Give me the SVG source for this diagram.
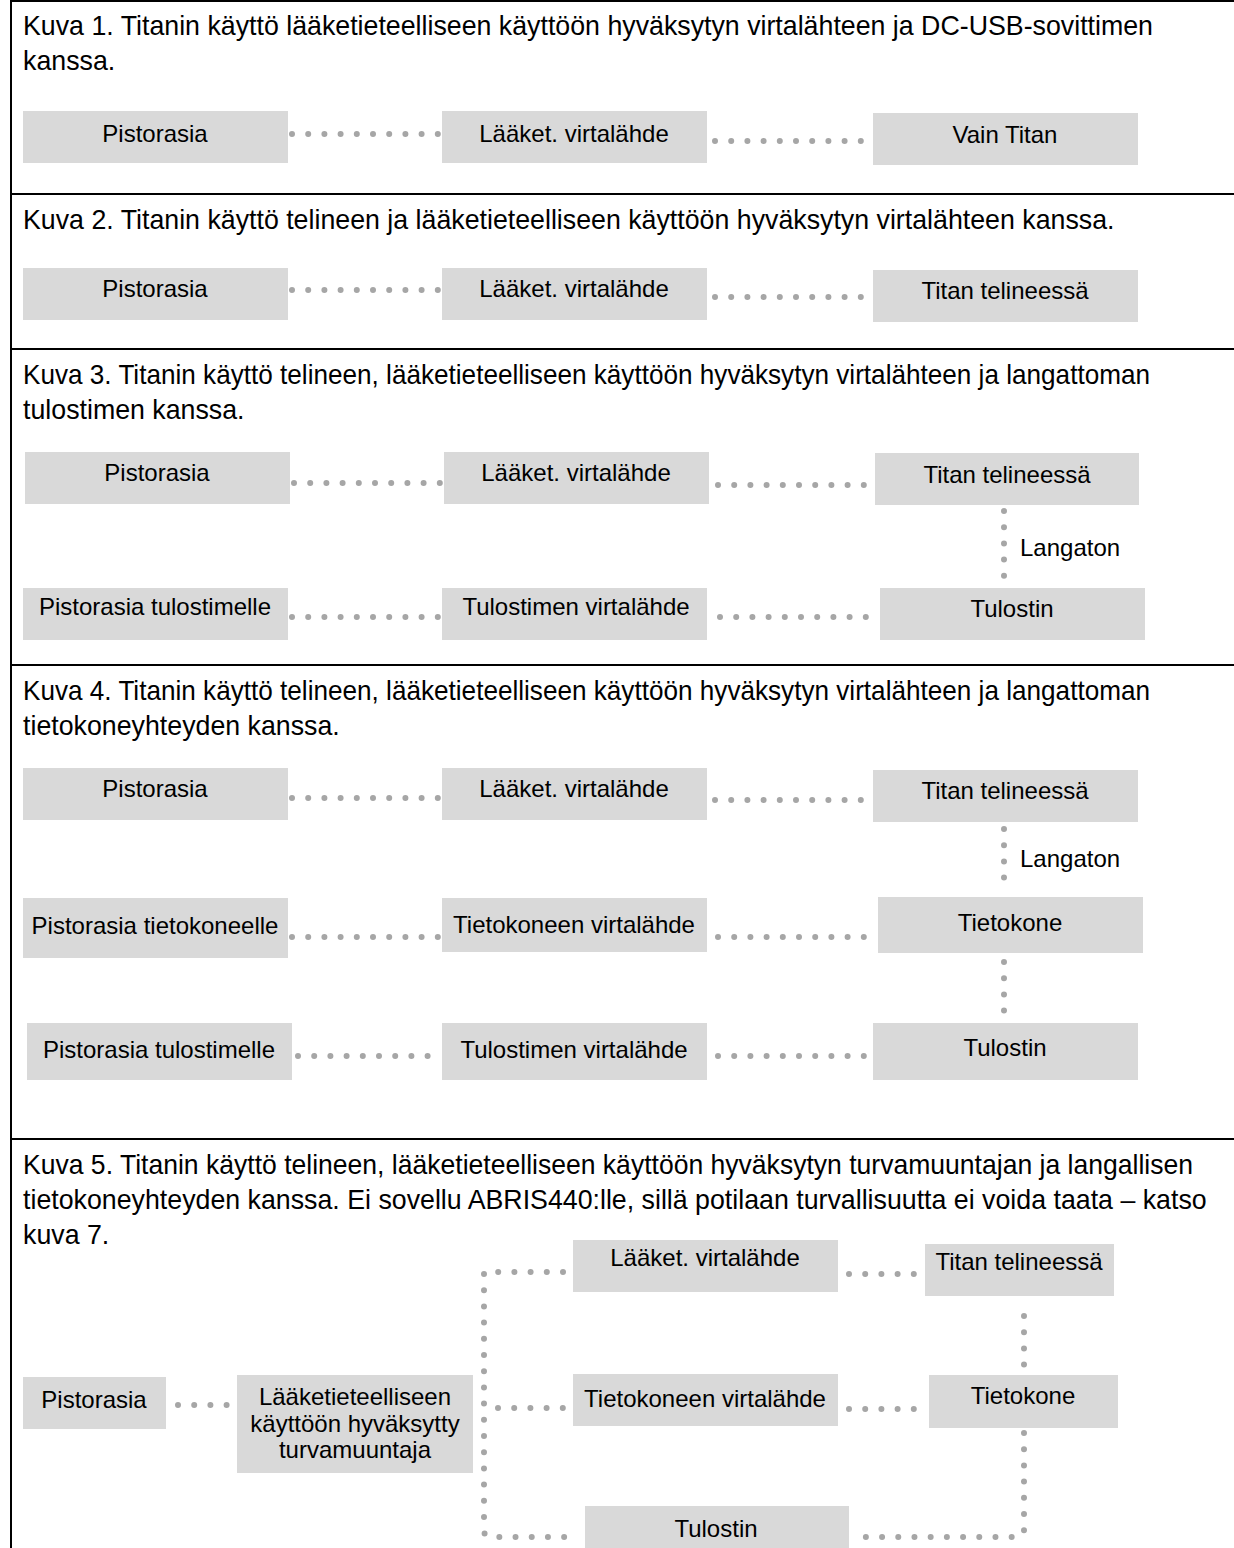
<svg xmlns="http://www.w3.org/2000/svg" width="1234" height="1548" viewBox="0 0 1234 1548">
<style>
.frame{stroke:#000;stroke-width:2;fill:none}
.box{fill:#d9d9d9}
.t{font-family:"Liberation Sans",Arial,sans-serif;font-size:26.75px;fill:#000}
.l{font-family:"Liberation Sans",Arial,sans-serif;font-size:24px;fill:#000;text-anchor:middle}
.lb{font-family:"Liberation Sans",Arial,sans-serif;font-size:24px;fill:#000}
.d{stroke:#a6a6a6;stroke-width:6;stroke-linecap:round;stroke-dasharray:0 16.2;fill:none}
</style>
<rect width="1234" height="1548" fill="#fff"/>
<g id="frame">
<line class="frame" x1="11" y1="0" x2="11" y2="1548"/>
<line class="frame" x1="10" y1="1" x2="1234" y2="1"/>
<line class="frame" x1="10" y1="194" x2="1234" y2="194"/>
<line class="frame" x1="10" y1="349" x2="1234" y2="349"/>
<line class="frame" x1="10" y1="665" x2="1234" y2="665"/>
<line class="frame" x1="10" y1="1139" x2="1234" y2="1139"/>
</g>
<g id="titles">
<text class="t" x="23" y="35">Kuva 1. Titanin käyttö lääketieteelliseen käyttöön hyväksytyn virtalähteen ja DC-USB-sovittimen</text>
<text class="t" x="23" y="70">kanssa.</text>
<text class="t" x="23" y="229">Kuva 2. Titanin käyttö telineen ja lääketieteelliseen käyttöön hyväksytyn virtalähteen kanssa.</text>
<text class="t" x="23" y="384" textLength="1127" lengthAdjust="spacingAndGlyphs">Kuva 3. Titanin käyttö telineen, lääketieteelliseen käyttöön hyväksytyn virtalähteen ja langattoman</text>
<text class="t" x="23" y="419">tulostimen kanssa.</text>
<text class="t" x="23" y="700" textLength="1127" lengthAdjust="spacingAndGlyphs">Kuva 4. Titanin käyttö telineen, lääketieteelliseen käyttöön hyväksytyn virtalähteen ja langattoman</text>
<text class="t" x="23" y="735">tietokoneyhteyden kanssa.</text>
<text class="t" x="23" y="1174" textLength="1170" lengthAdjust="spacingAndGlyphs">Kuva 5. Titanin käyttö telineen, lääketieteelliseen käyttöön hyväksytyn turvamuuntajan ja langallisen</text>
<text class="t" x="23" y="1209">tietokoneyhteyden kanssa. Ei sovellu ABRIS440:lle, sillä potilaan turvallisuutta ei voida taata – katso</text>
<text class="t" x="23" y="1244">kuva 7.</text>
</g>
<g id="connectors">
<line class="d" x1="292" y1="134" x2="438" y2="134"/>
<line class="d" x1="715" y1="141" x2="863" y2="141"/>
<line class="d" x1="292" y1="290" x2="438" y2="290"/>
<line class="d" x1="715" y1="297" x2="863" y2="297"/>
<line class="d" x1="294" y1="483" x2="440" y2="483"/>
<line class="d" x1="718" y1="485" x2="866" y2="485"/>
<line class="d" x1="1004" y1="511" x2="1004" y2="576"/>
<line class="d" x1="292" y1="617" x2="438" y2="617"/>
<line class="d" x1="720" y1="617" x2="866" y2="617"/>
<line class="d" x1="292" y1="798" x2="438" y2="798"/>
<line class="d" x1="715" y1="800" x2="863" y2="800"/>
<line class="d" x1="1004" y1="829" x2="1004" y2="885"/>
<line class="d" x1="292" y1="937" x2="438" y2="937"/>
<line class="d" x1="718" y1="937" x2="866" y2="937"/>
<line class="d" x1="1004" y1="962" x2="1004" y2="1026"/>
<line class="d" x1="298" y1="1056" x2="442" y2="1056"/>
<line class="d" x1="718" y1="1056" x2="866" y2="1056"/>
<line class="d" x1="849" y1="1274" x2="914" y2="1274"/>
<line class="d" x1="1024" y1="1316" x2="1024" y2="1365"/>
<line class="d" x1="849" y1="1409" x2="914" y2="1409"/>
<line class="d" x1="178" y1="1405" x2="227" y2="1405"/>
<path class="d" d="M 563 1272 H 484 V 1530 Q 484 1537 491 1537 H 576"/>
<line class="d" x1="498" y1="1408" x2="563" y2="1408"/>
<path class="d" d="M 1024 1433 V 1530 Q 1024 1537 1017 1537 H 850"/>
</g>
<g id="k1-pistorasia"><rect class="box" x="23" y="111" width="265" height="52"/><text class="l" x="155" y="142">Pistorasia</text></g>
<g id="k1-virtalahde"><rect class="box" x="442" y="111" width="265" height="52"/><text class="l" x="574" y="142">Lääket. virtalähde</text></g>
<g id="k1-titan"><rect class="box" x="873" y="113" width="265" height="52"/><text class="l" x="1005" y="143">Vain Titan</text></g>

<g id="k2-pistorasia"><rect class="box" x="23" y="268" width="265" height="52"/><text class="l" x="155" y="297">Pistorasia</text></g>
<g id="k2-virtalahde"><rect class="box" x="442" y="268" width="265" height="52"/><text class="l" x="574" y="297">Lääket. virtalähde</text></g>
<g id="k2-titan"><rect class="box" x="873" y="270" width="265" height="52"/><text class="l" x="1005" y="299">Titan telineessä</text></g>

<g id="k3-pistorasia"><rect class="box" x="25" y="452" width="265" height="52"/><text class="l" x="157" y="481">Pistorasia</text></g>
<g id="k3-virtalahde"><rect class="box" x="444" y="452" width="265" height="52"/><text class="l" x="576" y="481">Lääket. virtalähde</text></g>
<g id="k3-titan"><rect class="box" x="875" y="453" width="264" height="52"/><text class="l" x="1007" y="483">Titan telineessä</text></g>
<text class="lb" x="1020" y="556">Langaton</text>
<g id="k3-pist-tulostin"><rect class="box" x="23" y="588" width="265" height="52"/><text class="l" x="155" y="615">Pistorasia tulostimelle</text></g>
<g id="k3-tulostimen-virtalahde"><rect class="box" x="442" y="588" width="265" height="52"/><text class="l" x="576" y="615">Tulostimen virtalähde</text></g>
<g id="k3-tulostin"><rect class="box" x="880" y="588" width="265" height="52"/><text class="l" x="1012" y="617">Tulostin</text></g>

<g id="k4-pistorasia"><rect class="box" x="23" y="768" width="265" height="52"/><text class="l" x="155" y="797">Pistorasia</text></g>
<g id="k4-virtalahde"><rect class="box" x="442" y="768" width="265" height="52"/><text class="l" x="574" y="797">Lääket. virtalähde</text></g>
<g id="k4-titan"><rect class="box" x="873" y="770" width="265" height="52"/><text class="l" x="1005" y="799">Titan telineessä</text></g>
<text class="lb" x="1020" y="867">Langaton</text>
<g id="k4-pist-tietokone"><rect class="box" x="23" y="898" width="265" height="60"/><text class="l" x="155" y="934">Pistorasia tietokoneelle</text></g>
<g id="k4-tietokoneen-virtalahde"><rect class="box" x="442" y="898" width="265" height="54"/><text class="l" x="574" y="933">Tietokoneen virtalähde</text></g>
<g id="k4-tietokone"><rect class="box" x="878" y="897" width="265" height="56"/><text class="l" x="1010" y="931">Tietokone</text></g>
<g id="k4-pist-tulostin"><rect class="box" x="27" y="1023" width="265" height="57"/><text class="l" x="159" y="1058">Pistorasia tulostimelle</text></g>
<g id="k4-tulostimen-virtalahde"><rect class="box" x="442" y="1023" width="265" height="57"/><text class="l" x="574" y="1058">Tulostimen virtalähde</text></g>
<g id="k4-tulostin"><rect class="box" x="873" y="1023" width="265" height="57"/><text class="l" x="1005" y="1056">Tulostin</text></g>

<g id="k5-pistorasia"><rect class="box" x="23" y="1377" width="143" height="52"/><text class="l" x="94" y="1408">Pistorasia</text></g>
<g id="k5-turvamuuntaja"><rect class="box" x="237" y="1375" width="236" height="98"/><text class="l" x="355" y="1405">Lääketieteelliseen</text><text class="l" x="355" y="1432">käyttöön hyväksytty</text><text class="l" x="355" y="1458">turvamuuntaja</text></g>
<g id="k5-virtalahde"><rect class="box" x="573" y="1240" width="265" height="52"/><text class="l" x="705" y="1266">Lääket. virtalähde</text></g>
<g id="k5-titan"><rect class="box" x="925" y="1244" width="189" height="52"/><text class="l" x="1019" y="1270">Titan telineessä</text></g>
<g id="k5-tietokoneen-virtalahde"><rect class="box" x="573" y="1374" width="265" height="52"/><text class="l" x="705" y="1407">Tietokoneen virtalähde</text></g>
<g id="k5-tietokone"><rect class="box" x="929" y="1375" width="189" height="53"/><text class="l" x="1023" y="1404">Tietokone</text></g>
<g id="k5-tulostin"><rect class="box" x="585" y="1506" width="264" height="52"/><text class="l" x="716" y="1537">Tulostin</text></g>
</svg>
